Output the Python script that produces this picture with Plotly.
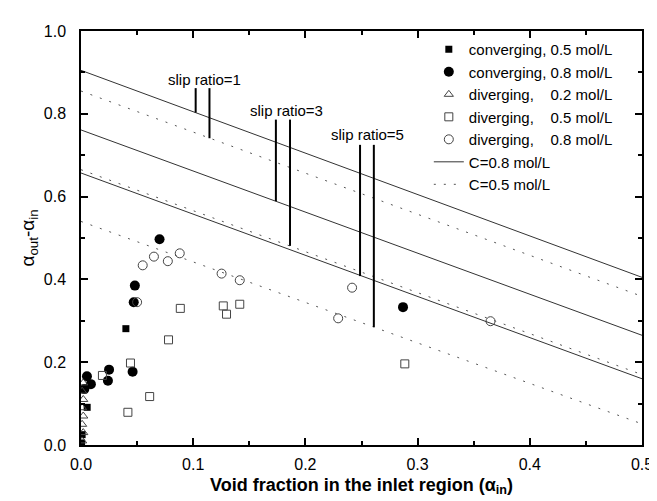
import plotly.graph_objects as go

# ---- data ----
conv05_x = [0.0005, 0.001, 0.0055, 0.040]
conv05_y = [0.005, 0.025, 0.091, 0.281]

conv08_x = [0.003, 0.0053, 0.0088, 0.024, 0.025, 0.046, 0.047, 0.048, 0.070, 0.287]
conv08_y = [0.135, 0.166, 0.147, 0.155, 0.182, 0.177, 0.345, 0.385, 0.497, 0.333]

div02_x = [0.001, 0.002, 0.001, 0.002, 0.001, 0.002, 0.001, 0.002]
div02_y = [0.010, 0.030, 0.050, 0.070, 0.090, 0.110, 0.130, 0.150]

div05_x = [0.0191, 0.0418, 0.0441, 0.0612, 0.078, 0.0885, 0.1268, 0.1297, 0.1415, 0.2886]
div05_y = [0.168, 0.079, 0.198, 0.117, 0.254, 0.330, 0.336, 0.316, 0.340, 0.196]

div08_x = [0.050, 0.055, 0.065, 0.0774, 0.088, 0.1253, 0.1415, 0.2292, 0.2416, 0.365]
div08_y = [0.345, 0.434, 0.455, 0.444, 0.463, 0.414, 0.398, 0.306, 0.380, 0.299]

# model lines (endpoints at x = 0 and x = 0.5)
line_x = [0.0, 0.5]
c08_lines = [[0.905, 0.405], [0.761, 0.265], [0.657, 0.160]]
c05_lines = [[0.855, 0.359], [0.665, 0.170], [0.540, 0.051]]

# slip ratio markers
slip_labels = ["slip ratio=1", "slip ratio=3", "slip ratio=5"]
slip_label_x = [0.110, 0.183, 0.255]
slip_label_y = [0.882, 0.808, 0.749]
slip_bar_x = [[0.1022, 0.1145], [0.1737, 0.1863], [0.2487, 0.261]]
slip_bar_top = [0.862, 0.786, 0.725]
slip_bar_bottom = [[0.803, 0.741], [0.589, 0.481], [0.408, 0.285]]

fig = go.Figure()

fig.add_trace(go.Scatter(x=conv05_x, y=conv05_y, mode="markers", name="converging, 0.5 mol/L",
                         marker=dict(symbol="square", size=7, color="black")))
fig.add_trace(go.Scatter(x=conv08_x, y=conv08_y, mode="markers", name="converging, 0.8 mol/L",
                         marker=dict(symbol="circle", size=10, color="black")))
fig.add_trace(go.Scatter(x=div02_x, y=div02_y, mode="markers",
                         name="diverging,\u00a0\u00a0\u00a0\u00a00.2 mol/L",
                         marker=dict(symbol="triangle-up-open", size=8, color="#444444", line=dict(width=1))))
fig.add_trace(go.Scatter(x=div05_x, y=div05_y, mode="markers",
                         name="diverging,\u00a0\u00a0\u00a0\u00a00.5 mol/L",
                         marker=dict(symbol="square-open", size=8, color="#444444", line=dict(width=1))))
fig.add_trace(go.Scatter(x=div08_x, y=div08_y, mode="markers",
                         name="diverging,\u00a0\u00a0\u00a0\u00a00.8 mol/L",
                         marker=dict(symbol="circle-open", size=9, color="#444444", line=dict(width=1))))

for i, ys in enumerate(c08_lines):
    fig.add_trace(go.Scatter(x=line_x, y=ys, mode="lines", name="C=0.8 mol/L",
                             legendgroup="c08", showlegend=(i == 0),
                             line=dict(color="#333333", width=1)))
for i, ys in enumerate(c05_lines):
    fig.add_trace(go.Scatter(x=line_x, y=ys, mode="lines", name="C=0.5 mol/L",
                             legendgroup="c05", showlegend=(i == 0),
                             line=dict(color="#555555", width=1, dash="2px,8px")))

for k in range(len(slip_labels)):
    for j in range(2):
        fig.add_trace(go.Scatter(x=[slip_bar_x[k][j], slip_bar_x[k][j]],
                                 y=[slip_bar_top[k], slip_bar_bottom[k][j]],
                                 mode="lines", showlegend=False, hoverinfo="skip",
                                 line=dict(color="black", width=2)))
    fig.add_annotation(x=slip_label_x[k], y=slip_label_y[k], text=slip_labels[k],
                       showarrow=False, font=dict(size=15, color="black"))

axis_common = dict(showline=True, linecolor="black", linewidth=1.5, mirror="ticks",
                   ticks="inside", ticklen=7, tickwidth=1.5, tickcolor="black",
                   showgrid=False, zeroline=False, tickformat=".1f",
                   tickfont=dict(size=16, color="black"))

fig.update_xaxes(range=[0, 0.5], dtick=0.1, ticklabelstandoff=4,
                 minor=dict(ticks="inside", ticklen=4, dtick=0.05, tickcolor="black", tickwidth=1.5),
                 title=dict(text="<b>Void fraction in the inlet region (α<sub>in</sub>)</b>",
                            font=dict(size=18, color="black"), standoff=6),
                 **axis_common)
fig.update_yaxes(range=[0, 1.0], dtick=0.2, ticklabelstandoff=10,
                 minor=dict(ticks="inside", ticklen=4, dtick=0.1, tickcolor="black", tickwidth=1.5),
                 title=dict(text="α<sub>out</sub>-α<sub>in</sub>",
                            font=dict(size=19, color="black"), standoff=4),
                 **axis_common)

fig.update_layout(
    width=657, height=501,
    margin=dict(l=73, r=16, t=23, b=64),
    paper_bgcolor="white", plot_bgcolor="white",
    font=dict(family="Arial, Liberation Sans, sans-serif", color="black"),
    legend=dict(x=0.62, y=0.995, xanchor="left", yanchor="top",
                bgcolor="rgba(0,0,0,0)", font=dict(size=15, color="black"),
                tracegroupgap=0),
)

fig.write_html("out.html")
